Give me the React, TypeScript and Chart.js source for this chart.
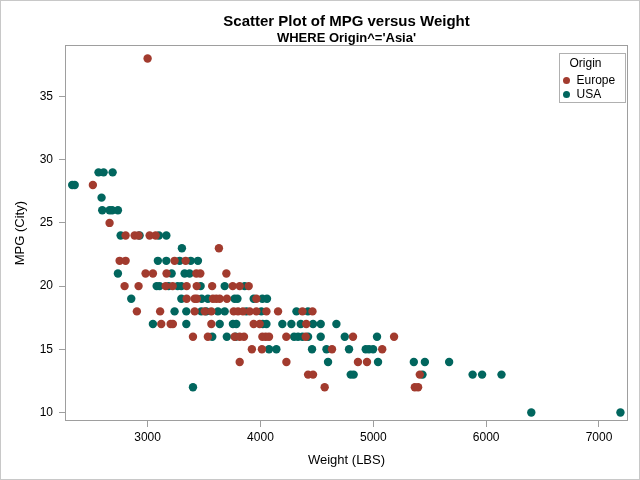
import React, { useEffect, useRef } from "react";
import { Chart, registerables } from "chart.js";

Chart.register(...registerables);

const chartTitle = "Scatter Plot of MPG versus Weight";
const chartSubtitle = "WHERE Origin^='Asia'";
const xAxisTitle = "Weight (LBS)";
const yAxisTitle = "MPG (City)";
const legendTitle = "Origin";
const seriesNames = ["Europe", "USA"];
const seriesColors = ["#A23B2E", "#01665E"];

const xTicks = [3000, 4000, 5000, 6000, 7000];
const yTicks = [10, 15, 20, 25, 30, 35];

// Europe
const europeWeight = [
  3000,
  2515,
  2663,
  2805, 2885, 2920, 3018, 3071,
  3632,
  2752, 2805, 3239, 3337,
  2982, 3047, 3168, 3432, 3467, 3698,
  2796, 2920, 3160, 3222, 3346, 3435, 3572, 3754, 3816, 3896,
  3346, 3417, 3437, 3579, 3609, 3639, 3703, 3964,
  2905, 3111, 3417, 3506, 3565, 3763, 3801, 3845, 3905, 3964, 4053, 4156, 4372, 4461,
  3121, 3204, 3224, 3565, 3940, 3993, 4406,
  3402, 3534, 3771, 3816, 3854, 4017, 4047, 4076, 4229, 4401, 4820, 5184,
  3924, 4013, 4634, 5079,
  3816, 4230, 4864, 4944,
  4422, 4466, 5412,
  4569, 5368, 5397,
];
const europeMpg = [
  38,
  28,
  25,
  24, 24, 24, 24, 24,
  23,
  22, 22, 22, 22,
  21, 21, 21, 21, 21, 21,
  20, 20, 20, 20, 20, 20, 20, 20, 20, 20,
  19, 19, 19, 19, 19, 19, 19, 19,
  18, 18, 18, 18, 18, 18, 18, 18, 18, 18, 18, 18, 18, 18,
  17, 17, 17, 17, 17, 17, 17,
  16, 16, 16, 16, 16, 16, 16, 16, 16, 16, 16, 16,
  15, 15, 15, 15,
  14, 14, 14, 14,
  13, 13, 13,
  12, 12, 12,
];

// USA
const usaWeight = [
  2565, 2610, 2690,
  2332, 2354,
  2592,
  2598, 2663, 2686, 2737,
  2761, 2929, 3100, 3166,
  3304,
  3091, 3166, 3284, 3382, 3446,
  2737, 3213, 3328, 3372,
  3080, 3106, 3186, 3266, 3299, 3470, 3683, 3860,
  2855, 3299, 3479, 3534, 3771, 3796, 3940, 4017, 4058,
  3239, 3343, 3476, 3520, 3623, 3683, 3875, 4008, 4319, 4421,
  3047, 3343, 3639, 3756, 3786, 4020, 4053, 4194, 4274, 4357, 4466, 4534, 4673,
  3573, 3702, 3780, 4298, 4333, 4372, 4422, 4534, 4747, 5033,
  4076, 4141, 4457, 4585, 4785, 4933, 4962, 4998,
  4599, 5042, 5359, 5457, 5672,
  4800, 4826, 5436, 5880, 5964, 6136,
  3402,
  6400, 7190,
];
const usaMpg = [
  29, 29, 29,
  28, 28,
  27,
  26, 26, 26, 26,
  24, 24, 24, 24,
  23,
  22, 22, 22, 22, 22,
  21, 21, 21, 21,
  20, 20, 20, 20, 20, 20, 20, 20,
  19, 19, 19, 19, 19, 19, 19, 19, 19,
  18, 18, 18, 18, 18, 18, 18, 18, 18, 18,
  17, 17, 17, 17, 17, 17, 17, 17, 17, 17, 17, 17, 17,
  16, 16, 16, 16, 16, 16, 16, 16, 16, 16,
  15, 15, 15, 15, 15, 15, 15, 15,
  14, 14, 14, 14, 14,
  13, 13, 13, 13, 13, 13,
  12,
  10, 10,
];

const FONT = "'Liberation Sans', Arial, Helvetica, sans-serif";
const AXIS_GRAY = "#9E9E9E";

const framePlugin = {
  id: "sasFrame",
  beforeDraw(chart: any) {
    const { ctx, width, height } = chart;
    ctx.save();
    ctx.fillStyle = "#FFFFFF";
    ctx.fillRect(0, 0, width, height);
    ctx.restore();
  },
  afterDraw(chart: any) {
    const { ctx, width, height, chartArea } = chart;
    ctx.save();
    // outer border
    ctx.strokeStyle = "#C8C8C8";
    ctx.lineWidth = 1;
    ctx.strokeRect(0.5, 0.5, width - 1, height - 1);
    // plot frame
    ctx.strokeStyle = AXIS_GRAY;
    const l = Math.round(chartArea.left) + 0.5;
    const t = Math.round(chartArea.top) + 0.5;
    const r = Math.round(chartArea.right) - 0.5;
    const b = Math.round(chartArea.bottom) - 0.5;
    ctx.strokeRect(l, t, r - l, b - t);

    // legend (inside, top right)
    const boxW = 66;
    const boxH = 49;
    const bx = Math.round(chartArea.right) - 3 - boxW + 0.5;
    const by = Math.round(chartArea.top) + 8 + 0.5;
    ctx.fillStyle = "#FFFFFF";
    ctx.fillRect(bx, by, boxW, boxH);
    ctx.strokeStyle = "#B0B0B0";
    ctx.strokeRect(bx, by, boxW, boxH);
    ctx.fillStyle = "#000000";
    ctx.font = `12px ${FONT}`;
    ctx.textBaseline = "middle";
    ctx.textAlign = "center";
    ctx.fillText(legendTitle, bx + boxW / 2 - 7, by + 10);
    ctx.textAlign = "left";
    chart.data.datasets.forEach((ds: any, i: number) => {
      const cy = by + 27 + i * 14;
      ctx.beginPath();
      ctx.fillStyle = ds.backgroundColor;
      ctx.arc(bx + 7, cy, 3.5, 0, Math.PI * 2);
      ctx.fill();
      ctx.fillStyle = "#000000";
      ctx.fillText(ds.label, bx + 17, cy + 0.5);
    });
    ctx.restore();
  },
};

export default function App() {
  const canvasRef = useRef<HTMLCanvasElement | null>(null);

  useEffect(() => {
    document.body.style.margin = "0";
    const canvas = canvasRef.current;
    if (!canvas) return;
    const chart = new Chart(canvas, {
      type: "scatter",
      data: {
        datasets: [
          {
            label: seriesNames[0],
            data: europeWeight.map((w, i) => ({ x: w, y: europeMpg[i] })),
            backgroundColor: seriesColors[0],
            borderColor: seriesColors[0],
            borderWidth: 0,
            pointRadius: 4.2,
            pointHoverRadius: 4.2,
          },
          {
            label: seriesNames[1],
            data: usaWeight.map((w, i) => ({ x: w, y: usaMpg[i] })),
            backgroundColor: seriesColors[1],
            borderColor: seriesColors[1],
            borderWidth: 0,
            pointRadius: 4.2,
            pointHoverRadius: 4.2,
          },
        ],
      },
      options: {
        animation: false,
        responsive: false,
        devicePixelRatio: 1,
        events: [],
        layout: { padding: { left: 0, right: 12, top: 0, bottom: 0 } },
        plugins: {
          legend: { display: false },
          tooltip: { enabled: false },
          title: {
            display: true,
            text: chartTitle,
            fullSize: false,
            color: "#000000",
            font: { family: FONT, size: 15, weight: "bold", lineHeight: 1.2 },
            padding: { top: 13, bottom: 0 },
          },
          subtitle: {
            display: true,
            text: chartSubtitle,
            fullSize: false,
            color: "#000000",
            font: { family: FONT, size: 13, weight: "bold", lineHeight: 1.0 },
            padding: { top: 1.3, bottom: 0 },
          },
        },
        scales: {
          x: {
            type: "linear",
            min: 2268,
            max: 7257,
            afterBuildTicks: (scale: any) => {
              scale.ticks = xTicks.map((v) => ({ value: v }));
            },
            afterFit: (scale: any) => {
              scale.height = 59;
            },
            border: { display: false },
            grid: {
              drawOnChartArea: false,
              drawTicks: true,
              tickLength: 6,
              color: AXIS_GRAY,
            },
            ticks: {
              color: "#000000",
              font: { family: FONT, size: 12 },
              padding: 3,
              maxRotation: 0,
              callback: (v: any) => String(v),
            },
            title: {
              display: true,
              text: xAxisTitle,
              color: "#000000",
              font: { family: FONT, size: 13 },
              padding: { top: 0, bottom: 12 },
            },
          },
          y: {
            type: "linear",
            min: 9.33,
            max: 39.05,
            afterBuildTicks: (scale: any) => {
              scale.ticks = yTicks.map((v) => ({ value: v }));
            },
            afterFit: (scale: any) => {
              scale.width = 65;
            },
            border: { display: false },
            grid: {
              drawOnChartArea: false,
              drawTicks: true,
              tickLength: 6,
              color: AXIS_GRAY,
            },
            ticks: {
              color: "#000000",
              font: { family: FONT, size: 12 },
              padding: 6,
              callback: (v: any) => String(v),
            },
            title: {
              display: true,
              text: yAxisTitle,
              color: "#000000",
              font: { family: FONT, size: 13 },
              padding: { top: 13, bottom: 0 },
            },
          },
        },
      },
      plugins: [framePlugin],
    } as any);
    return () => {
      chart.destroy();
    };
  }, []);

  return (
    <div style={{ position: "absolute", left: 0, top: 0, width: 640, height: 480 }}>
      <canvas ref={canvasRef} width={640} height={480} style={{ display: "block" }} />
    </div>
  );
}
